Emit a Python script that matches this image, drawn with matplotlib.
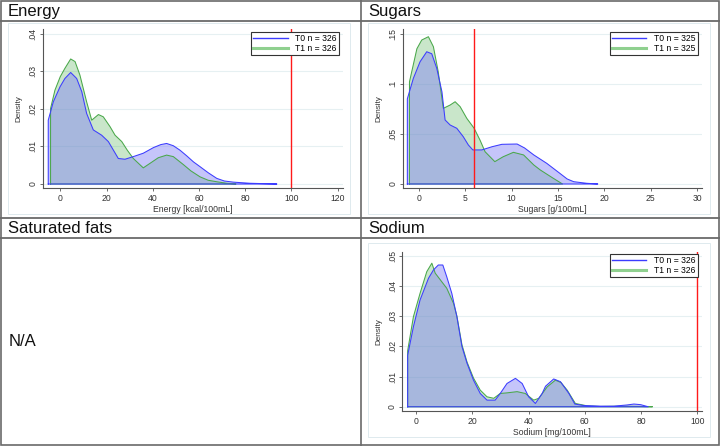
import matplotlib.pyplot as plt
from matplotlib.lines import Line2D
from matplotlib.patches import Rectangle

plt.rcParams["font.family"] = ["Liberation Sans", "DejaVu Sans"]

W, H = 720, 446

# ---- data (kernel density outlines) ----
energy_t0_x = [-5.2, -3.0, -0.1, 2.0, 4.5, 7.1, 9.3, 11.4, 14.3, 17.9, 20.8, 23.0, 25.1, 28.0,
               31.6, 35.9, 40.3, 43.5, 46.0, 48.9, 51.8, 54.7, 57.6, 60.5, 64.0, 67.7, 71.0,
               74.9, 82.0, 88.0, 93.7]
energy_t0_y = [0.0170, 0.0219, 0.0259, 0.0281, 0.0297, 0.0281, 0.0246, 0.0188, 0.0144, 0.0130,
               0.0113, 0.0090, 0.0068, 0.0066, 0.0073, 0.0082, 0.0097, 0.0105, 0.0108, 0.0102,
               0.0090, 0.0075, 0.0059, 0.0046, 0.0030, 0.0015, 0.0008, 0.0005, 0.0002, 0.0001, 0.0]
energy_t1_x = [-4.2, -2.3, 0.0, 2.0, 4.5, 6.4, 8.5, 11.4, 13.6, 16.5, 18.6, 21.5, 23.7, 26.6,
               29.0, 31.6, 35.9, 38.8, 42.4, 46.0, 48.9, 53.2, 56.5, 60.5, 64.0, 67.7, 72.0, 76.0]
energy_t1_y = [0.0201, 0.0250, 0.0286, 0.0308, 0.0333, 0.0326, 0.0290, 0.0219, 0.0170, 0.0185,
               0.0179, 0.0153, 0.0130, 0.0113, 0.0090, 0.0068, 0.0043, 0.0055, 0.0070, 0.0077,
               0.0073, 0.0052, 0.0035, 0.0019, 0.0010, 0.0006, 0.0002, 0.0]

sugars_t0_x = [-1.23, -0.58, 0.14, 0.86, 1.4, 1.94, 2.5, 2.84, 3.38, 4.1, 4.8, 5.35, 5.83, 6.8,
               7.9, 8.96, 10.6, 11.4, 12.4, 13.8, 15.2, 16.0, 16.7, 18.1, 19.3]
sugars_t0_y = [0.085, 0.1055, 0.122, 0.132, 0.130, 0.1155, 0.092, 0.0639, 0.0589, 0.0556, 0.0472,
               0.0389, 0.034, 0.034, 0.0372, 0.0396, 0.0399, 0.036, 0.029, 0.0206, 0.0107, 0.005,
               0.0023, 0.0007, 0.0]
sugars_t1_x = [-1.0, -0.2, 0.32, 1.04, 1.58, 2.1, 2.65, 3.38, 3.92, 4.46, 5.18, 5.97, 6.6, 7.15,
               8.2, 9.1, 10.2, 11.3, 12.4, 13.1, 14.5, 15.5]
sugars_t1_y = [0.102, 0.135, 0.1437, 0.147, 0.137, 0.112, 0.0755, 0.0788, 0.0821, 0.0772, 0.0655,
               0.0556, 0.0439, 0.0322, 0.0223, 0.0272, 0.0316, 0.029, 0.019, 0.014, 0.0057, 0.0]

sodium_t0_x = [-3.0, -0.95, 1.4, 4.4, 6.2, 7.9, 9.5, 10.9, 12.7, 14.5, 16.3, 18.1, 20.4, 22.8,
               25.2, 28.1, 29.9, 32.3, 35.3, 37.7, 40.0, 42.4, 44.8, 46.0, 48.9, 51.3, 54.3,
               56.4, 59.6, 65.5, 70.3, 75.0, 77.4, 79.8, 82.5]
sodium_t0_y = [0.0170, 0.0265, 0.0353, 0.0425, 0.0453, 0.0469, 0.0469, 0.0430, 0.0375, 0.0298,
               0.0199, 0.0144, 0.0088, 0.0044, 0.0022, 0.0022, 0.0044, 0.0077, 0.0094, 0.0077,
               0.0033, 0.0011, 0.0044, 0.0068, 0.0092, 0.0083, 0.0044, 0.0009, 0.0004, 0.0002,
               0.0002, 0.0006, 0.0009, 0.0007, 0.0]
sodium_t1_x = [-3.0, -0.95, 1.4, 3.8, 5.6, 6.8, 8.6, 10.9, 13.3, 14.5, 16.3, 18.1, 20.4, 22.8,
               25.2, 27.6, 29.9, 32.3, 35.9, 38.8, 41.8, 43.6, 46.6, 49.5, 51.5, 53.7, 56.6,
               60.8, 65.5, 72.6, 79.8, 84.0]
sodium_t1_y = [0.0185, 0.0298, 0.0375, 0.0447, 0.0475, 0.0442, 0.0420, 0.0392, 0.0342, 0.0300,
               0.0205, 0.0148, 0.0095, 0.0055, 0.0033, 0.0028, 0.0044, 0.0046, 0.0050, 0.0044,
               0.0022, 0.0028, 0.0066, 0.0088, 0.0080, 0.0055, 0.0011, 0.0003, 0.0001, 0.0002,
               0.0001, 0.0]

energy_xticks = [0, 20, 40, 60, 80, 100, 120]
energy_yticks = [0, 0.01, 0.02, 0.03, 0.04]
energy_ylabels = ["0", ".01", ".02", ".03", ".04"]
sugars_xticks = [0, 5, 10, 15, 20, 25, 30]
sugars_yticks = [0, 0.05, 0.1, 0.15]
sugars_ylabels = ["0", ".05", ".1", ".15"]
sodium_xticks = [0, 20, 40, 60, 80, 100]
sodium_yticks = [0, 0.01, 0.02, 0.03, 0.04, 0.05]
sodium_ylabels = ["0", ".01", ".02", ".03", ".04", ".05"]

energy_n = (326, 326)
sugars_n = (325, 325)
sodium_n = (326, 326)
energy_limit = 100
sugars_limit = 6
sodium_limit = 100

BLUE = "#3c3cff"
GREEN = "#4aa84a"
SMALL = 6.2


def fx(px):
    return px / W


def fy(py):
    return 1 - py / H


fig = plt.figure(figsize=(7.2, 4.46), dpi=100)


def density_area(ax, xs, ys, face, alpha, edge):
    px = [xs[0]] + list(xs) + [xs[-1], xs[0]]
    py = [0] + list(ys) + [0, 0]
    ax.fill(px, py, facecolor=face, alpha=alpha, edgecolor="none")
    ax.plot(px, py, color=edge, lw=0.75)


def panel(rect_px, frame_px, t0x, t0y, t1x, t1y, xlim, ylim, xticks, yticks, ylabels,
          xlabel, n, limit):
    l, t, r, b = rect_px
    ax = fig.add_axes([fx(l), fy(b), fx(r) - fx(l), fy(t) - fy(b)])
    fl, ft, fr, fb = frame_px
    fig.add_artist(Rectangle((fx(fl), fy(fb)), fx(fr) - fx(fl), fy(ft) - fy(fb),
                             transform=fig.transFigure, fill=False, ec="#dfeaee", lw=0.7,
                             zorder=-1))
    density_area(ax, t1x, t1y, "#4caf50", 0.30, GREEN)
    density_area(ax, t0x, t0y, "#7f7ff5", 0.45, BLUE)
    ax.axvline(limit, color="#ff1a1a", lw=1.0)
    ax.set_xlim(*xlim)
    ax.set_ylim(*ylim)
    ax.set_xticks(xticks)
    ax.set_yticks(yticks)
    ax.set_yticklabels(ylabels, rotation=90, va="center")
    ax.grid(axis="y", color="#e6f0f2", lw=0.8)
    ax.set_axisbelow(True)
    for s in ["top", "right"]:
        ax.spines[s].set_visible(False)
    for s in ["left", "bottom"]:
        ax.spines[s].set_color("#555555")
        ax.spines[s].set_linewidth(0.8)
    ax.tick_params(length=2.5, width=0.6, color="#555555", labelsize=SMALL, pad=1.5,
                   labelcolor="#333333")
    ax.set_xlabel(xlabel, fontsize=SMALL, labelpad=1.5, color="#333333")
    ax.set_ylabel("Density", fontsize=SMALL - 0.3, labelpad=4, color="#333333")
    handles = [Line2D([], [], color=BLUE, lw=1.0), Line2D([], [], color="#8fd08f", lw=2.2)]
    leg = ax.legend(handles, [f"T0 n = {n[0]}", f"T1 n = {n[1]}"], loc="upper right",
                    bbox_to_anchor=(0.987, 0.985), fontsize=SMALL, fancybox=False,
                    framealpha=1, edgecolor="#333333", handlelength=4.0, handletextpad=0.9,
                    borderpad=0.25, labelspacing=0.1, borderaxespad=0)
    leg.get_frame().set_linewidth(0.8)
    return ax


panel((42.7, 29.3, 343, 188.3), (8.3, 22.7, 350, 214),
      energy_t0_x, energy_t0_y, energy_t1_x, energy_t1_y,
      (-7.6, 122.3), (-0.00114, 0.0412), energy_xticks, energy_yticks, energy_ylabels,
      "Energy [kcal/100mL]", energy_n, energy_limit)
panel((402.7, 29.3, 701.7, 188.3), (368, 22.7, 710, 214),
      sugars_t0_x, sugars_t0_y, sugars_t1_x, sugars_t1_y,
      (-1.73, 30.5), (-0.0043, 0.1544), sugars_xticks, sugars_yticks, sugars_ylabels,
      "Sugars [g/100mL]", sugars_n, sugars_limit)
panel((402.3, 251.7, 701.7, 411), (368, 243, 710, 437),
      sodium_t0_x, sodium_t0_y, sodium_t1_x, sodium_t1_y,
      (-4.9, 101.5), (-0.0014, 0.0513), sodium_xticks, sodium_yticks, sodium_ylabels,
      "Sodium [mg/100mL]", sodium_n, sodium_limit)

# table grid
GRID = "#6a6a6a"
fig.add_artist(Rectangle((fx(0.8), fy(445.2)), fx(718.4), fy(0.8) - fy(445.2),
                         transform=fig.transFigure, fill=False, ec=GRID, lw=1.2))
for py in [21, 217.5, 238]:
    fig.add_artist(Line2D([0, 1], [fy(py), fy(py)], transform=fig.transFigure,
                          color=GRID, lw=1.3))
fig.add_artist(Line2D([fx(360.5), fx(360.5)], [0, 1], transform=fig.transFigure,
                      color=GRID, lw=1.2))

headers = [("Energy", 8, 11.5), ("Sugars", 368, 11.5), ("Saturated fats", 8, 228.5),
           ("Sodium", 368, 228.5)]
for txt, px, py in headers:
    fig.text(fx(px), fy(py), txt, fontsize=12, ha="left", va="center", color="#111111")
fig.text(fx(8.5), fy(342), "N/A", fontsize=12, ha="left", va="center", color="#111111")

plt.savefig("out.png", dpi=100)
